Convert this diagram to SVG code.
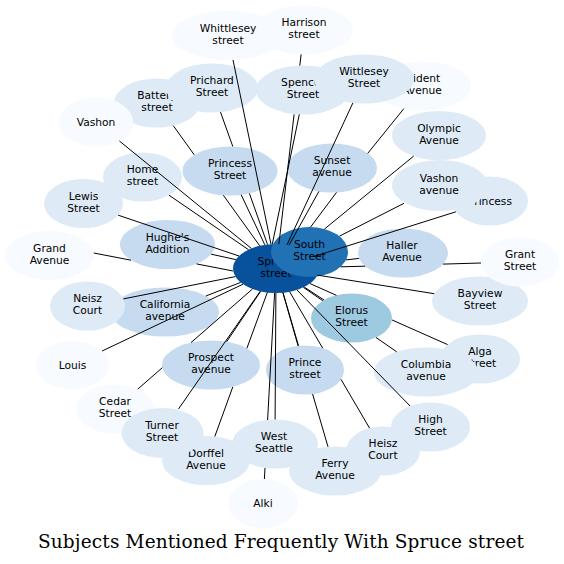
<svg xmlns="http://www.w3.org/2000/svg" width="564" height="564" viewBox="0 0 564 564">
<style>
.c1{fill:#f7fbff}.c2{fill:#deebf7}.c3{fill:#c6dbef}.c4{fill:#9ecae1}.c7{fill:#2171b5}.c8{fill:#08519c}
text{font-family:"DejaVu Sans","Liberation Sans",sans-serif;font-size:10.7px;text-anchor:middle;fill:#000}
.e{stroke:#000;stroke-width:1;fill:none}
.title{font-family:"DejaVu Serif","Liberation Serif",serif;font-size:18.5px}
</style>
<rect width="564" height="564" fill="#fff"/>
<g id="nodes">
<g id="spruce"><ellipse class="c8" cx="276" cy="268.5" rx="43" ry="24.5"/><text><tspan x="276" y="264.9">Spruce</tspan><tspan x="276" y="276.9">street</tspan></text></g>
<g id="south"><ellipse class="c7" cx="309.5" cy="252" rx="38.5" ry="25"/><text><tspan x="309.5" y="248.4">South</tspan><tspan x="309.5" y="260.4">Street</tspan></text></g>
<g id="harrison"><ellipse class="c1" cx="304" cy="30" rx="49" ry="24.5"/><text><tspan x="304" y="26.4">Harrison</tspan><tspan x="304" y="38.4">street</tspan></text></g>
<g id="whittlesey-street"><ellipse class="c1" cx="228" cy="35.5" rx="56" ry="24.5"/><text><tspan x="228" y="31.9">Whittlesey</tspan><tspan x="228" y="43.9">street</tspan></text></g>
<g id="battery"><ellipse class="c2" cx="157" cy="103" rx="43" ry="24.5"/><text><tspan x="157" y="99.4">Battery</tspan><tspan x="157" y="111.4">street</tspan></text></g>
<g id="vashon"><ellipse class="c1" cx="96" cy="122" rx="37" ry="24.5"/><text x="96" y="125.8">Vashon</text></g>
<g id="prichard"><ellipse class="c2" cx="212" cy="88" rx="46" ry="24.5"/><text><tspan x="212" y="84.4">Prichard</tspan><tspan x="212" y="96.4">Street</tspan></text></g>
<g id="spencer"><ellipse class="c2" cx="303" cy="90" rx="47" ry="24.5"/><text><tspan x="303" y="86.4">Spencer</tspan><tspan x="303" y="98.4">Street</tspan></text></g>
<g id="trident"><ellipse class="c1" cx="422" cy="86" rx="49" ry="24.5"/><text><tspan x="422" y="82.4">Trident</tspan><tspan x="422" y="94.4">Avenue</tspan></text></g>
<g id="wittlesey"><ellipse class="c2" cx="364" cy="79" rx="50" ry="24.5"/><text><tspan x="364" y="75.4">Wittlesey</tspan><tspan x="364" y="87.4">Street</tspan></text></g>
<g id="olympic"><ellipse class="c2" cx="439" cy="135.5" rx="47" ry="24.5"/><text><tspan x="439" y="131.9">Olympic</tspan><tspan x="439" y="143.9">Avenue</tspan></text></g>
<g id="sunset"><ellipse class="c3" cx="332" cy="168" rx="45" ry="24.5"/><text><tspan x="332" y="164.4">Sunset</tspan><tspan x="332" y="176.4">avenue</tspan></text></g>
<g id="princess"><ellipse class="c2" cx="490" cy="201" rx="38" ry="24.5"/><text x="490" y="204.8">Princess</text></g>
<g id="vashon-avenue"><ellipse class="c2" cx="440" cy="185.5" rx="48" ry="25.5"/><text><tspan x="439" y="181.9">Vashon</tspan><tspan x="439" y="193.9">avenue</tspan></text></g>
<g id="home"><ellipse class="c2" cx="142.5" cy="177" rx="39.5" ry="24.5"/><text><tspan x="142.5" y="173.4">Home</tspan><tspan x="142.5" y="185.4">street</tspan></text></g>
<g id="lewis"><ellipse class="c2" cx="83.5" cy="203.5" rx="39.5" ry="24.5"/><text><tspan x="83.5" y="199.9">Lewis</tspan><tspan x="83.5" y="211.9">Street</tspan></text></g>
<g id="princess-street"><ellipse class="c3" cx="230" cy="171" rx="47.5" ry="24.5"/><text><tspan x="230" y="167.4">Princess</tspan><tspan x="230" y="179.4">Street</tspan></text></g>
<g id="grand"><ellipse class="c1" cx="49.5" cy="255.5" rx="44.5" ry="24.5"/><text><tspan x="49.5" y="251.9">Grand</tspan><tspan x="49.5" y="263.9">Avenue</tspan></text></g>
<g id="hughes"><ellipse class="c3" cx="167.5" cy="244.5" rx="47.5" ry="24.5"/><text><tspan x="167.5" y="240.9">Hughe's</tspan><tspan x="167.5" y="252.9">Addition</tspan></text></g>
<g id="california"><ellipse class="c3" cx="165" cy="312" rx="54" ry="24.5"/><text><tspan x="165" y="308.4">California</tspan><tspan x="165" y="320.4">avenue</tspan></text></g>
<g id="neisz"><ellipse class="c2" cx="87.5" cy="306" rx="37.5" ry="24.5"/><text><tspan x="87.5" y="302.4">Neisz</tspan><tspan x="87.5" y="314.4">Court</tspan></text></g>
<g id="louis"><ellipse class="c1" cx="72.5" cy="365" rx="36.5" ry="24"/><text x="72.5" y="368.8">Louis</text></g>
<g id="cedar"><ellipse class="c1" cx="115" cy="409" rx="39" ry="24.5"/><text><tspan x="115" y="405.4">Cedar</tspan><tspan x="115" y="417.4">Street</tspan></text></g>
<g id="dorffel"><ellipse class="c2" cx="206" cy="460.5" rx="44" ry="24.5"/><text><tspan x="206" y="456.9">Dorffel</tspan><tspan x="206" y="468.9">Avenue</tspan></text></g>
<g id="turner"><ellipse class="c2" cx="162.5" cy="433" rx="41" ry="25"/><text><tspan x="162" y="428.9">Turner</tspan><tspan x="162" y="440.9">Street</tspan></text></g>
<g id="prospect"><ellipse class="c3" cx="211" cy="365" rx="49" ry="24.5"/><text><tspan x="211" y="361.4">Prospect</tspan><tspan x="211" y="373.4">avenue</tspan></text></g>
<g id="alki"><ellipse class="c1" cx="263" cy="503.5" rx="35" ry="24.5"/><text x="263" y="507.3">Alki</text></g>
<g id="west-seattle"><ellipse class="c2" cx="275" cy="444" rx="43" ry="24.5"/><text><tspan x="274" y="440.4">West</tspan><tspan x="274" y="452.4">Seattle</tspan></text></g>
<g id="ferry"><ellipse class="c2" cx="335" cy="471" rx="46" ry="24.5"/><text><tspan x="335" y="467.4">Ferry</tspan><tspan x="335" y="479.4">Avenue</tspan></text></g>
<g id="heisz"><ellipse class="c2" cx="383" cy="451" rx="37" ry="24.5"/><text><tspan x="383" y="447.4">Heisz</tspan><tspan x="383" y="459.4">Court</tspan></text></g>
<g id="high"><ellipse class="c2" cx="430.5" cy="427" rx="39.5" ry="24.5"/><text><tspan x="430.5" y="423.4">High</tspan><tspan x="430.5" y="435.4">Street</tspan></text></g>
<g id="prince"><ellipse class="c3" cx="305" cy="370" rx="39" ry="24.5"/><text><tspan x="305" y="366.4">Prince</tspan><tspan x="305" y="378.4">street</tspan></text></g>
<g id="alga"><ellipse class="c2" cx="480" cy="359" rx="40" ry="24.5"/><text><tspan x="480" y="355.4">Alga</tspan><tspan x="480" y="367.4">Street</tspan></text></g>
<g id="columbia"><ellipse class="c2" cx="426" cy="372" rx="52" ry="24.5"/><text><tspan x="426" y="368.4">Columbia</tspan><tspan x="426" y="380.4">avenue</tspan></text></g>
<g id="elorus"><ellipse class="c4" cx="351.5" cy="318" rx="40.5" ry="24.5"/><text><tspan x="351.5" y="314.4">Elorus</tspan><tspan x="351.5" y="326.4">Street</tspan></text></g>
<g id="haller"><ellipse class="c3" cx="403" cy="253" rx="45" ry="24.5"/><text><tspan x="402" y="249.4">Haller</tspan><tspan x="402" y="261.4">Avenue</tspan></text></g>
<g id="bayview"><ellipse class="c2" cx="480" cy="301" rx="48" ry="24.5"/><text><tspan x="480" y="297.4">Bayview</tspan><tspan x="480" y="309.4">Street</tspan></text></g>
<g id="grant"><ellipse class="c1" cx="520" cy="262" rx="39" ry="24.5"/><text><tspan x="520" y="258.4">Grant</tspan><tspan x="520" y="270.4">Street</tspan></text></g>
</g>
<g id="connectors">
<path class="e" d="M233.0,59.9L271.0,244.2"/>
<path class="e" d="M301.1,54.4L299.8,65.6M294.1,114.4L278.9,244.1"/>
<path class="e" d="M220.5,112.1L232.8,146.5M249.4,193.4L267.5,244.5"/>
<path class="e" d="M173.3,125.7L194.3,154.9M223.4,195.3L259.7,245.8"/>
<path class="e" d="M119.4,141.0L251.3,248.4"/>
<path class="e" d="M169.0,195.2L248.5,249.7"/>
<path class="e" d="M241.2,194.8L264.8,244.8"/>
<path class="e" d="M299.3,114.4L272.3,244.1"/>
<path class="e" d="M352.9,102.9L287.0,244.8"/>
<path class="e" d="M403.8,108.7L367.7,153.4M336.5,192.4L310.6,227.0"/>
<path class="e" d="M413.7,156.1L324.5,229.0"/>
<path class="e" d="M318.9,191.4L289.0,245.2"/>
<path class="e" d="M404.0,203.3L339.4,236.2"/>
<path class="e" d="M455.9,211.8L313.6,256.6"/>
<path class="e" d="M359.1,258.4L346.0,259.9"/>
<path class="e" d="M481.0,263.0L443.1,264.1M365.1,266.2L340.5,266.8"/>
<path class="e" d="M434.2,293.7L317.4,275.1"/>
<path class="e" d="M324.0,300.0L304.2,287.0"/>
<path class="e" d="M447.6,344.6L391.9,319.9M336.4,295.3L309.9,283.5"/>
<path class="e" d="M396.7,351.8L376.0,337.5M322.7,300.7L303.4,287.4"/>
<path class="e" d="M410.1,406.0L296.9,289.9"/>
<path class="e" d="M369.6,428.2L341.0,379.4M322.7,348.2L289.6,291.7"/>
<path class="e" d="M328.0,446.8L312.6,394.0M298.5,345.8L283.0,292.7"/>
<path class="e" d="M298.1,345.9L282.9,292.7"/>
<path class="e" d="M275.1,419.5L275.9,293.0"/>
<path class="e" d="M264.4,479.0L265.0,468.0M267.6,420.0L274.6,293.0"/>
<path class="e" d="M214.8,436.5L232.8,386.9M246.9,348.3L267.3,292.5"/>
<path class="e" d="M178.5,409.0L260.2,291.3"/>
<path class="e" d="M137.8,389.1L162.3,367.7M191.0,342.6L252.5,289.0"/>
<path class="e" d="M102.1,351.0L243.0,284.2"/>
<path class="e" d="M226.6,341.8L260.6,291.4"/>
<path class="e" d="M205.9,296.0L240.6,282.4"/>
<path class="e" d="M123.4,298.9L235.4,276.6"/>
<path class="e" d="M93.8,253.0L131.0,260.2M196.5,263.9L233.2,271.0"/>
<path class="e" d="M211.2,254.2L235.9,259.6"/>
<path class="e" d="M118.2,215.2L239.0,256.0"/>
</g>
<text class="title" x="281" y="547.5" textLength="486">Subjects Mentioned Frequently With Spruce street</text>
</svg>
